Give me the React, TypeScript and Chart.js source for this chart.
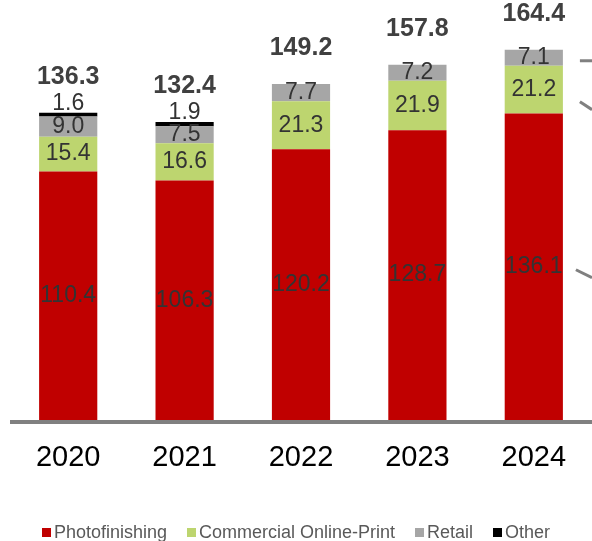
import React, { useEffect, useRef } from "react";
import { Chart, registerables } from "chart.js";

Chart.register(...registerables);

const categories = ["2020", "2021", "2022", "2023", "2024"];
const photofinishing = [110.4, 106.3, 120.2, 128.7, 136.1];
const commercialOnlinePrint = [15.4, 16.6, 21.3, 21.9, 21.2];
const retail = [9.0, 7.5, 7.7, 7.2, 7.1];
const other = [1.6, 1.9, 0, 0, 0];
const totals = [136.3, 132.4, 149.2, 157.8, 164.4];

const seriesNames = ["Photofinishing", "Commercial Online-Print", "Retail", "Other"];
const seriesColors = ["#C00000", "#BDD56F", "#A6A6A6", "#000000"];

const FONT = "'Liberation Sans', Arial, sans-serif";

const labelPlugin = {
  id: "segmentLabels",
  beforeDatasetsDraw(chart: any) {
    const { ctx, chartArea } = chart;
    ctx.save();
    ctx.fillStyle = "#808080";
    ctx.fillRect(chartArea.left, chartArea.bottom, chartArea.right - chartArea.left, 4);
    ctx.restore();
  },
  afterDatasetsDraw(chart: any) {
    const { ctx } = chart;
    ctx.save();
    ctx.textAlign = "center";
    ctx.textBaseline = "middle";
    const n = chart.data.datasets.length;
    chart.data.datasets.forEach((ds: any, i: number) => {
      const meta = chart.getDatasetMeta(i);
      meta.data.forEach((bar: any, j: number) => {
        const v = ds.data[j];
        if (!v) return;
        ctx.font = `23px ${FONT}`;
        ctx.fillStyle = "#333333";
        const txt = v.toFixed(1);
        if (i === n - 1) {
          ctx.fillText(txt, bar.x, bar.y - 9);
        } else {
          ctx.fillText(txt, bar.x, (bar.y + bar.base) / 2);
        }
      });
    });
    // totals
    const yScale = chart.scales.y;
    const xMeta = chart.getDatasetMeta(0);
    ctx.font = `bold 25px ${FONT}`;
    ctx.fillStyle = "#404040";
    totals.forEach((t, j) => {
      const x = xMeta.data[j].x;
      ctx.fillText(t.toFixed(1), x, yScale.getPixelForValue(t) - 36);
    });
    // leader lines to the right (cut off in the original)
    const last = categories.length - 1;
    const lines = [
      { ds: 2, dx0: 17, dy0: 3, dy1: 3 },
      { ds: 1, dx0: 17, dy0: 12, dy1: 20 },
      { ds: 0, dx0: 13, dy0: 3, dy1: 11 },
    ];
    ctx.strokeStyle = "#808080";
    ctx.lineWidth = 3;
    lines.forEach((l) => {
      const bar: any = chart.getDatasetMeta(l.ds).data[last];
      const right = bar.x + bar.width / 2;
      const mid = (bar.y + bar.base) / 2;
      const x0 = right + l.dx0;
      const x1 = chart.width;
      ctx.beginPath();
      ctx.moveTo(x0, mid + l.dy0);
      ctx.lineTo(x1, mid + l.dy1);
      ctx.stroke();
    });
    ctx.restore();
  },
};

export default function App() {
  const ref = useRef<HTMLCanvasElement>(null);
  useEffect(() => {
    if (!ref.current) return;
    const datasets = [photofinishing, commercialOnlinePrint, retail, other].map((d, i) => ({
      label: seriesNames[i],
      data: d,
      backgroundColor: seriesColors[i],
      borderWidth: 0,
      categoryPercentage: 1,
      barPercentage: 0.5,
    }));
    const chart = new Chart(ref.current, {
      type: "bar",
      data: { labels: categories, datasets },
      options: {
        animation: false,
        responsive: false,
        maintainAspectRatio: false,
        layout: { padding: { left: 10, right: 0, top: 0, bottom: 45 } },
        plugins: { legend: { display: false }, tooltip: { enabled: false } },
        scales: {
          x: {
            stacked: true,
            grid: { display: false, drawTicks: false },
            border: { display: false },
            ticks: { color: "#000000", font: { family: FONT, size: 29 }, padding: 20.6 },
          },
          y: {
            stacked: true,
            display: false,
            min: 0,
            max: 186.5,
          },
        },
      },
      plugins: [labelPlugin],
    });
    return () => chart.destroy();
  }, []);

  return (
    <div style={{ position: "fixed", left: 0, top: 0, width: 592, height: 541, background: "#fff" }}>
      <canvas ref={ref} width={592} height={541} style={{ display: "block" }} />
      <div
        style={{
          position: "absolute",
          left: 0,
          width: 592,
          top: 521,
          height: 22,
          display: "flex",
          justifyContent: "center",
          alignItems: "center",
          gap: 20,
          fontFamily: FONT,
          fontSize: 18,
          color: "#595959",
          whiteSpace: "nowrap",
        }}
      >
        {seriesNames.map((name, i) => (
          <span key={name} style={{ display: "flex", alignItems: "center" }}>
            <span style={{ width: 9, height: 9, background: seriesColors[i], marginRight: 3, display: "inline-block" }} />
            <span>{name}</span>
          </span>
        ))}
      </div>
    </div>
  );
}
